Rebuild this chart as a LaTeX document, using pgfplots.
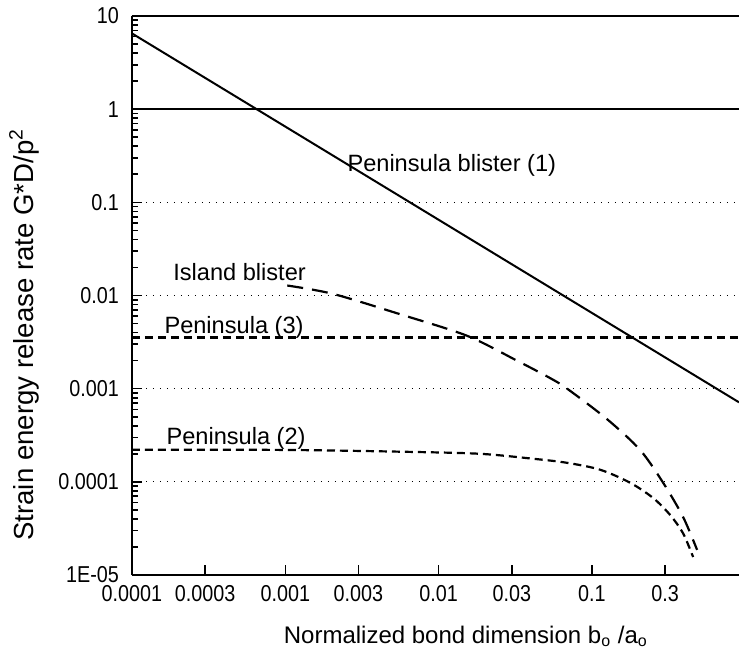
\documentclass[border=0pt]{standalone}
\usepackage{fontspec}
\setmainfont{Liberation Sans}
\newfontfamily\tickfont{Liberation Sans}[FakeStretch=0.86]
\usepackage{pgfplots}
\pgfplotsset{compat=1.18}

\begin{document}
\begin{tikzpicture}
\begin{axis}[
    scale only axis,
    width=303.5pt, height=279.5pt,
    xmode=log, ymode=log,
    xmin=1e-4, xmax=0.91,
    ymin=1e-5, ymax=10,
    axis x line=bottom, axis y line=left,
    axis line style={-, line width=1pt},
    clip=false,
    tick align=inside,
    major tick length=5pt, minor tick length=3pt,
    every tick/.style={black, line width=0.8pt},
    xtick={1e-4,3e-4,1e-3,3e-3,1e-2,3e-2,0.1,0.3},
    xticklabels={0.0001,0.0003,0.001,0.003,0.01,0.03,0.1,0.3},
    xminorticks=false,
    ytick={1e-5,1e-4,1e-3,1e-2,1e-1,1,10},
    yticklabels={1E-05,0.0001,0.001,0.01,0.1,1,10},
    minor ytick={2e-5,3e-5,4e-5,5e-5,6e-5,7e-5,8e-5,9e-5,
                 2e-4,3e-4,4e-4,5e-4,6e-4,7e-4,8e-4,9e-4,
                 2e-3,3e-3,4e-3,5e-3,6e-3,7e-3,8e-3,9e-3,
                 2e-2,3e-2,4e-2,5e-2,6e-2,7e-2,8e-2,9e-2,
                 0.2,0.3,0.4,0.5,0.6,0.7,0.8,0.9,
                 2,3,4,5,6,7,8,9},
    ticklabel style={font=\tickfont\fontsize{11.5}{13}\selectfont},
    yticklabel style={xshift=-3pt},
    xticklabel style={yshift=-1.5pt},
    ymajorgrids=true,
    major grid style={black, line width=0.6pt, dash pattern=on 0.7pt off 2.8pt},
]
% solid reference lines at 1 and 10
\addplot[black, line width=0.9pt] coordinates {(1e-4,1) (0.91,1)};
\addplot[black, line width=1pt] coordinates {(1e-4,10) (0.91,10)};
% Peninsula blister (1)
\addplot[black, line width=1pt] coordinates {(1e-4,6.5) (0.91,7.14e-4)};
% Peninsula (3)
\addplot[black, line width=1.1pt, dash pattern=on 4pt off 2.5pt] coordinates {(1e-4,3.55e-3) (0.91,3.55e-3)};
% Peninsula (2)
\addplot[black, line width=1.1pt, dash pattern=on 4pt off 2.5pt, smooth] coordinates {
    (1e-4,2.21e-4) (0.001,2.2e-4) (0.00622,2.1e-4) (0.0186,2.0e-4)
    (0.0413,1.77e-4) (0.0689,1.6e-4) (0.113,1.35e-4) (0.177,9.8e-5)
    (0.251,6.7e-5) (0.324,4.4e-5) (0.393,2.8e-5) (0.457,1.56e-5)
};
% Island blister
\addplot[black, line width=1.1pt, dash pattern=on 8pt off 4.5pt, smooth] coordinates {
    (0.00103,0.0128) (0.00205,0.0104) (0.0056,0.0063) (0.0153,0.0037)
    (0.0324,0.002) (0.0533,0.0013) (0.0689,0.001) (0.1256,4.7e-4)
    (0.206,2.2e-4) (0.291,9.8e-5) (0.393,4.2e-5) (0.485,1.86e-5)
};
\node[anchor=base west, inner sep=0pt, font=\fontsize{11.8}{14}\selectfont] at (axis cs:0.00253,0.215) {Peninsula blister (1)};
\node[anchor=base west, inner sep=0pt, font=\fontsize{11.8}{14}\selectfont] at (axis cs:1.85e-4,0.01449) {Island blister};
\node[anchor=base west, inner sep=0pt, font=\fontsize{11.8}{14}\selectfont] at (axis cs:1.62e-4,0.00391) {Peninsula (3)};
\node[anchor=base west, inner sep=0pt, font=\fontsize{11.8}{14}\selectfont] at (axis cs:1.67e-4,2.49e-4) {Peninsula (2)};
\node[anchor=base, inner sep=0pt, font=\fontsize{12}{14}\selectfont] at (rel axis cs:0.55,0) [yshift=-34pt] {Normalized bond dimension b\textsubscript{o} /a\textsubscript{o}};
\node[anchor=base, rotate=90, inner sep=0pt, font=\fontsize{13.8}{16}\selectfont] at (rel axis cs:-0.163,0.43) {Strain energy release rate G*D/p\textsuperscript{2}};
\end{axis}
\pgfresetboundingbox
\path (-66pt,-39.5pt) rectangle (303.5pt,287.5pt);
\end{tikzpicture}
\end{document}
